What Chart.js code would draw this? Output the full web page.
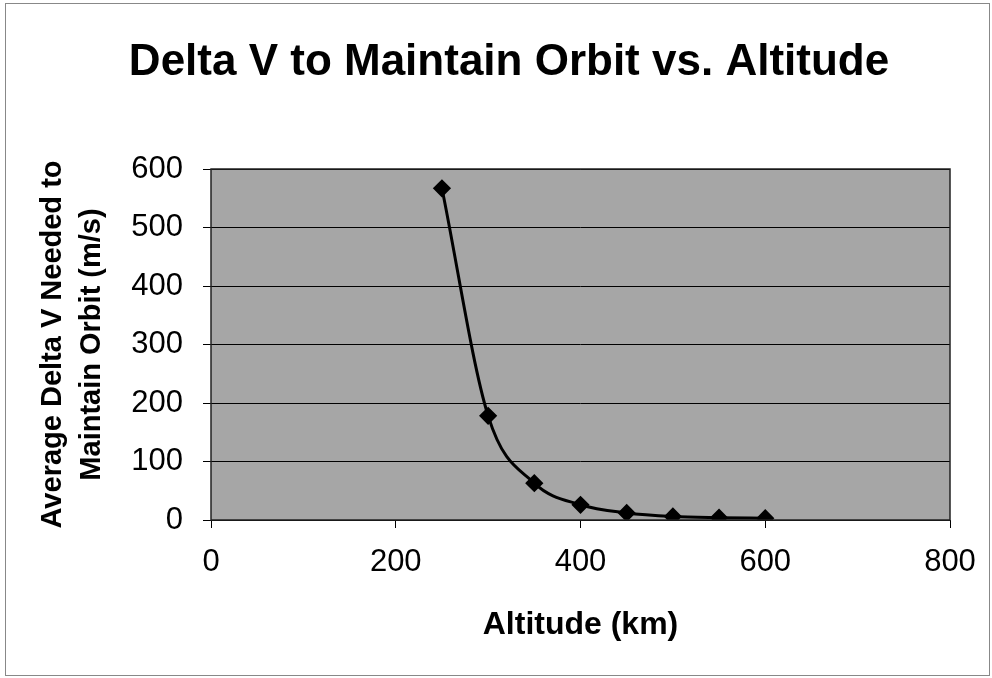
<!DOCTYPE html>
<html>
<head>
<meta charset="utf-8">
<script src="https://cdn.jsdelivr.net/npm/chart.js@4"></script>
<style>
  html, body { margin: 0; padding: 0; background: #fff; }
  #wrap { width: 992px; height: 678px; position: relative; }
</style>
</head>
<body>
<div id="wrap"><canvas id="chart"></canvas></div>
<script>
const altitudes = [250, 300, 350, 400, 450, 500, 550, 600];
const deltaV = [567, 178, 63, 26, 12, 6, 4, 3];
const xTicks = [0, 200, 400, 600, 800];
const yTicks = [0, 100, 200, 300, 400, 500, 600];
const chartTitle = "Delta V to Maintain Orbit vs. Altitude";

const FONT = "'Liberation Sans', Arial, sans-serif";

// grey plot background, plot border, frame and the (off-centre) title
const backdrop = {
  id: "backdrop",
  beforeDraw(chart) {
    const { ctx, chartArea: a } = chart;
    ctx.save();
    ctx.fillStyle = "#a6a6a6";
    ctx.fillRect(a.left, a.top, a.right - a.left, a.bottom - a.top);
    ctx.strokeStyle = "#888";
    ctx.lineWidth = 1;
    ctx.strokeRect(5.5, 3.5, 984, 672);
    ctx.fillStyle = "#000";
    ctx.font = "bold 44px " + FONT;
    ctx.textAlign = "center";
    ctx.textBaseline = "middle";
    ctx.fillText(chartTitle, 509, 63);
    ctx.restore();
  },
  afterDatasetsDraw(chart) {
    const { ctx, chartArea: a } = chart;
    ctx.save();
    ctx.strokeStyle = "#222";
    ctx.lineWidth = 1.5;
    ctx.strokeRect(a.left, a.top, a.right - a.left, a.bottom - a.top);
    ctx.restore();
  }
};

new Chart(document.getElementById("chart"), {
  type: "line",
  data: {
    datasets: [{
      data: altitudes.map((x, i) => ({ x, y: deltaV[i] })),
      borderColor: "#000",
      backgroundColor: "#000",
      borderWidth: 3,
      cubicInterpolationMode: "monotone",
      pointStyle: "rectRot",
      pointRadius: 7,
      pointHoverRadius: 7,
      fill: false
    }]
  },
  options: {
    responsive: true,
    maintainAspectRatio: false,
    animation: false,
    layout: { padding: { top: 169, right: 42, bottom: 0, left: 0 } },
    plugins: {
      legend: { display: false },
      tooltip: { enabled: false },
      title: { display: false }
    },
    scales: {
      x: {
        type: "linear",
        min: 0,
        max: 800,
        afterBuildTicks(axis) { axis.ticks = xTicks.map(v => ({ value: v })); },
        afterFit(axis) { axis.height = 158; },
        grid: { drawOnChartArea: false, tickLength: 8, color: "#000" },
        border: { display: false },
        ticks: { color: "#000", font: { family: FONT, size: 31 }, padding: 16, maxRotation: 0 },
        title: {
          display: true,
          text: "Altitude (km)",
          color: "#000",
          font: { family: FONT, size: 32, weight: "bold", lineHeight: 1.2 },
          padding: { top: 0, bottom: 34 }
        }
      },
      y: {
        min: 0,
        max: 600,
        afterBuildTicks(axis) { axis.ticks = yTicks.map(v => ({ value: v })); },
        afterFit(axis) { axis.width = 211; },
        grid: { color: "#000", lineWidth: 1, tickLength: 8 },
        border: { display: false },
        ticks: { color: "#000", font: { family: FONT, size: 31 }, padding: 20 },
        title: {
          display: true,
          text: ["Average Delta V Needed to", "Maintain Orbit (m/s)"],
          color: "#000",
          font: { family: FONT, size: 29, weight: "bold", lineHeight: 1.34 },
          padding: { top: 33.5, bottom: 0 }
        }
      }
    }
  },
  plugins: [backdrop]
});
</script>
</body>
</html>
